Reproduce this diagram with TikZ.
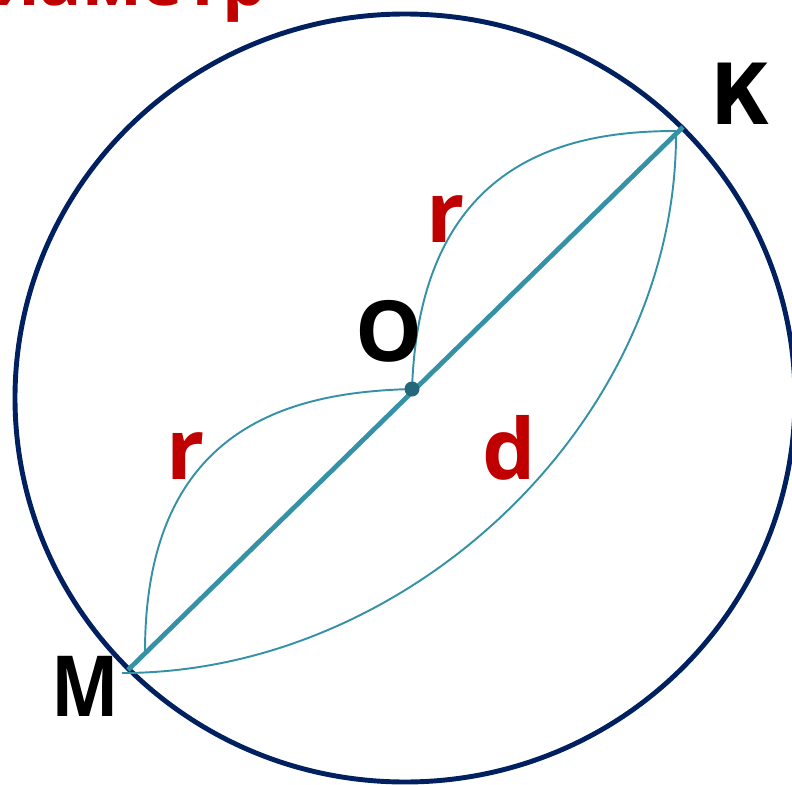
\documentclass[tikz,border=0pt]{standalone}
\usepackage{fontspec}
\setmainfont{Open Sans}
\newfontfamily\kfont{DejaVu Sans}[FakeStretch=0.85]
\newfontfamily\mfont{Open Sans}[FakeStretch=0.85]
\usetikzlibrary{positioning}
\definecolor{rimblue}{HTML}{002060}
\definecolor{chordteal}{HTML}{3592A6}
\definecolor{dotteal}{HTML}{22687A}
\definecolor{labred}{HTML}{C00000}

\begin{document}
\begin{tikzpicture}[
  x=0.02cm, y=-0.02cm,
  rim/.style={draw=rimblue, line width=2.8pt},
  chord/.style={draw=chordteal, line width=2.7pt},
  bow/.style={draw=chordteal, line width=1.1pt},
  pt/.style={font=\fontsize{48}{48}\selectfont\bfseries, inner sep=0pt, anchor=base},
  len/.style={pt, text=labred}
]
  \useasboundingbox (0,0) rectangle (792,785);
  \clip (0,0) rectangle (792,785);

  % circle
  \draw[rim] (405,398) ellipse [x radius=390, y radius=384];

  \coordinate (M) at (128,670);
  \coordinate (K) at (683,127);
  \coordinate (O) at (412,389);

  % radius and diameter bows
  \draw[bow] (145,652) .. controls (145,420) and (300,392) .. (O);
  \draw[bow] (O) .. controls (420,158) and (570,131) .. (676,131);
  \draw[bow] (676,131) .. controls (678,420) and (410,673) .. (122,673);

  % diameter
  \draw[chord] (M) -- (K);
  \fill[dotteal] (O) circle (7.5);

  % labels
  \node[pt] (lblK) at (741,124) {\kfont К};
  \node[pt] (lblM) at (85,716) {\mfont М};
  \node[pt] (lblO) at (389,361) {О};
  \node[len] (rUp) at (446,242) {r};
  \node[len] (rDown) at (186,479) {r};
  \node[len] (dLen) at (509,479) {d};

  % title, cut off by the frame
  \node[font=\fontsize{40}{40}\selectfont\bfseries, text=labred, inner sep=0pt, anchor=base east] (title) at (267,5) {Диаметр};
\end{tikzpicture}
\end{document}
